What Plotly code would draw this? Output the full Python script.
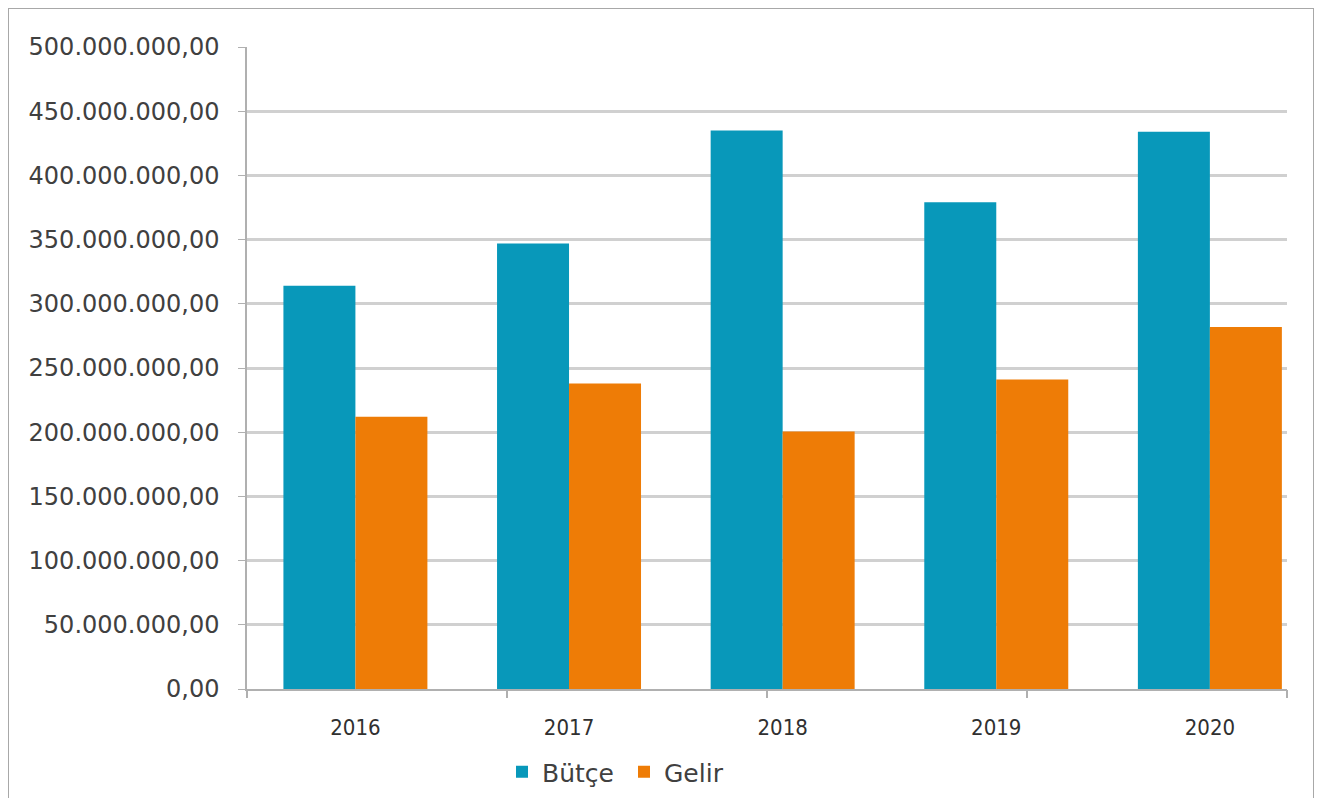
import plotly.graph_objects as go

years = ["2016", "2017", "2018", "2019", "2020"]
butce = [314_000_000, 347_000_000, 435_000_000, 379_000_000, 434_000_000]
gelir = [212_000_000, 238_000_000, 200_500_000, 241_000_000, 282_000_000]
y_ticks = list(range(0, 500_000_001, 50_000_000))
axis_tick_positions = [0, 1, 2, 3, 4]

fig = go.Figure()
fig.add_trace(go.Bar(x=years, y=butce, name="Bütçe", marker_color="#0898BA", marker_line_width=0))
fig.add_trace(go.Bar(x=years, y=gelir, name="Gelir", marker_color="#EE7C06", marker_line_width=0))
# empty helper trace so the overlay axis carrying the tick marks is drawn
fig.add_trace(go.Scatter(x=[None], y=[None], xaxis="x2", yaxis="y", mode="markers",
                         showlegend=False, hoverinfo="skip"))

OFF = 8  # page body margin
L, R, T, B = 247 - OFF, 1287 - OFF, 47 - OFF, 689 - OFF
W, H = 1322 - 2 * OFF, 806 - 2 * OFF
pw, ph = R - L, B - T

def px(x):
    return (x - OFF - L) / pw

def py(y):
    return (B - (y - OFF)) / ph

fig.update_layout(
    width=W, height=H,
    margin=dict(l=L, r=W - R, t=T, b=H - B, autoexpand=False),
    paper_bgcolor="white", plot_bgcolor="white",
    separators=",.",
    barmode="group", bargap=0.326, bargroupgap=0,
    font=dict(family="DejaVu Sans", color="#404040"),
    legend=dict(orientation="h", x=px(502), xanchor="left", y=py(772), yanchor="middle",
                font=dict(family="DejaVu Sans", size=25, color="#404040"),
                entrywidth=77, entrywidthmode="pixels",
                itemwidth=30, bgcolor="rgba(0,0,0,0)", borderwidth=0),
    showlegend=True,
)
fig.update_yaxes(
    range=[0, 500_000_000], tickvals=y_ticks, tickformat=",.2f",
    showgrid=True, gridcolor="#d0d0d0", gridwidth=2.5,
    showline=True, linecolor="#b0b0b0", linewidth=1.5,
    ticks="outside", ticklen=7, tickcolor="#b0b0b0",
    ticklabelstandoff=14,
    tickfont=dict(family="DejaVu Sans", size=24, color="#404040"),
    zeroline=False,
)
fig.update_xaxes(
    range=[-0.5075, 4.361],
    showline=True, linecolor="#b0b0b0", linewidth=2,
    ticks="",
    ticklabelstandoff=18,
    tickfont=dict(family="DejaVu Sans Condensed", size=22, color="#303030"),
    showgrid=False,
)
fig.update_layout(
    xaxis2=dict(overlaying="x", anchor="y", side="bottom", range=[0, 4],
                tickvals=axis_tick_positions, showticklabels=False,
                ticks="outside", ticklen=8, tickcolor="#b0b0b0", tickwidth=1.5,
                showline=False, showgrid=False, zeroline=False, fixedrange=True),
)
fig.add_shape(type="rect", xref="paper", yref="paper",
              x0=px(8), x1=px(1314), y0=py(8), y1=py(799),
              line=dict(color="#a8a8a8", width=2), fillcolor="rgba(0,0,0,0)", layer="below")

fig.write_html("out.html")
